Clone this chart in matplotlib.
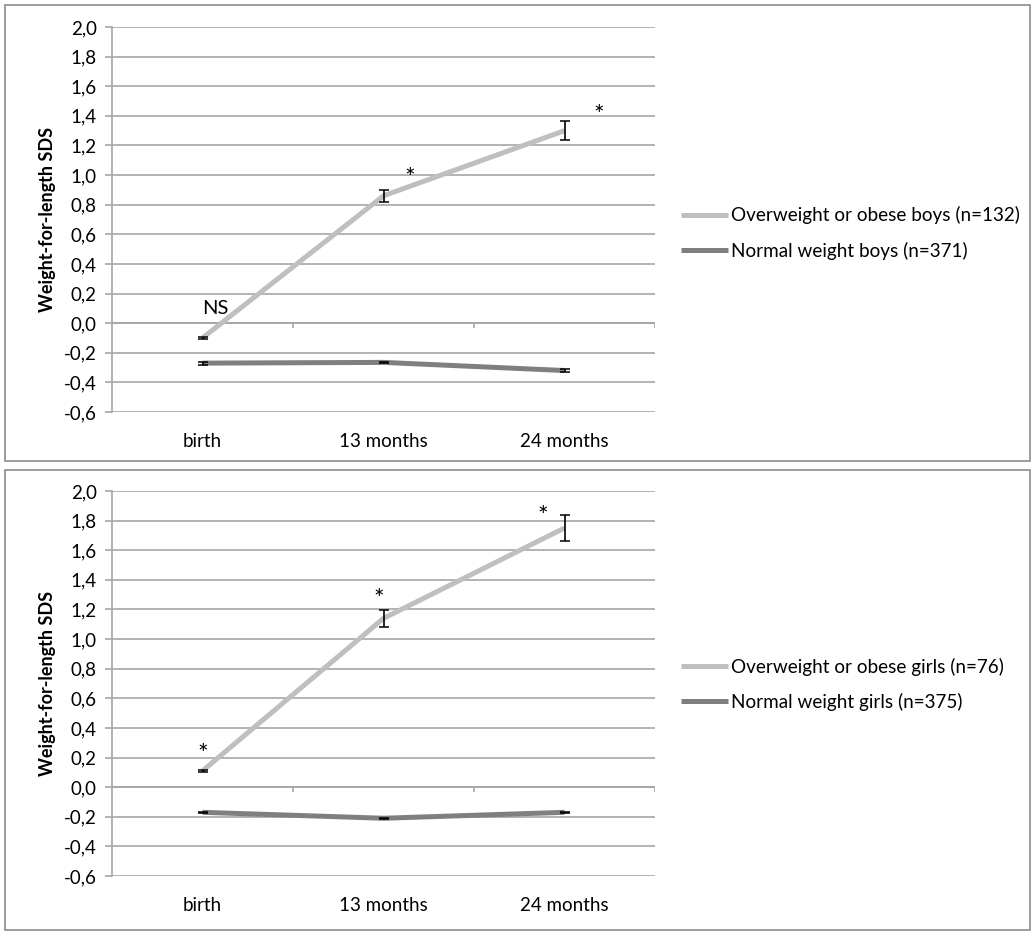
import matplotlib
matplotlib.use('Agg')
import matplotlib.pyplot as plt
from matplotlib.patches import Rectangle
from matplotlib.ticker import FuncFormatter
import numpy as np

categories = ['birth', '13 months', '24 months']

boys_ow = [-0.10, 0.86, 1.30]
boys_ow_err = [0.005, 0.04, 0.065]
boys_nw = [-0.27, -0.265, -0.32]
boys_nw_err = [0.01, 0.005, 0.01]
boys_marks = ['NS', '*', '*']
boys_labels = ['Overweight or obese boys (n=132)', 'Normal weight boys (n=371)']

girls_ow = [0.11, 1.14, 1.75]
girls_ow_err = [0.005, 0.057, 0.088]
girls_nw = [-0.17, -0.21, -0.17]
girls_nw_err = [0.005, 0.005, 0.005]
girls_marks = ['*', '*', '*']
girls_labels = ['Overweight or obese girls (n=76)', 'Normal weight girls (n=375)']

plt.rcParams['font.family'] = ['Lato', 'DejaVu Sans']

W, H = 1035, 936
fig = plt.figure(figsize=(W / 100, H / 100), dpi=100)

grid_c = '#a6a6a6'
light = '#bfbfbf'
dark = '#7f7f7f'
fs = 13

panels = [
    dict(ow=boys_ow, ow_err=boys_ow_err, nw=boys_nw, nw_err=boys_nw_err,
         marks=boys_marks, labels=boys_labels,
         mark_dx=[0.07, 0.145, 0.19], mark_dy=[0.20, 0.12, 0.10],
         box=(5, 5, 1030, 461), ax_top=27, leg_y=233),
    dict(ow=girls_ow, ow_err=girls_ow_err, nw=girls_nw, nw_err=girls_nw_err,
         marks=girls_marks, labels=girls_labels,
         mark_dx=[0.0, -0.027, -0.12], mark_dy=[0.11, 0.13, 0.08],
         box=(5, 470, 1030, 930), ax_top=491, leg_y=684),
]

x = np.arange(len(categories))
for p in panels:
    x0, y0, x1, y1 = p['box']
    fig.patches.append(Rectangle((x0 / W, 1 - y1 / H), (x1 - x0) / W, (y1 - y0) / H,
                                 transform=fig.transFigure, fill=False,
                                 edgecolor='#8c8c8c', linewidth=1.2))
    top = p['ax_top']
    ax = fig.add_axes([112 / W, 1 - (top + 385) / H, 543 / W, 385 / H])
    ax.set_xlim(-0.5, 2.5)
    ax.set_ylim(-0.6, 2.0)
    ax.set_yticks(np.arange(-0.6, 2.01, 0.2))
    ax.yaxis.set_major_formatter(FuncFormatter(lambda v, pos: f'{v:.1f}'.replace('.', ',').replace('-0,0', '0,0')))
    ax.grid(axis='y', color=grid_c, linewidth=1.2)
    ax.set_axisbelow(True)
    for s in ['top', 'right', 'bottom']:
        ax.spines[s].set_visible(False)
    ax.spines['left'].set_color(grid_c)
    ax.spines['left'].set_linewidth(1.2)
    ax.tick_params(axis='y', colors=grid_c, length=5, width=1.2, labelcolor='black',
                   labelsize=fs + 0.5, pad=6)
    ax.set_xticks(x)
    ax.set_xticklabels(categories)
    ax.tick_params(axis='x', length=0, pad=15, labelsize=fs + 0.5)
    # category axis crosses at zero
    ax.axhline(0, color=grid_c, linewidth=1.2, zorder=1)
    ax.vlines(x + 0.5, -0.035, 0, color=grid_c, linewidth=1.2, zorder=1)

    l1, = ax.plot(x, p['ow'], color=light, linewidth=3.6, solid_capstyle='butt', zorder=3)
    ax.errorbar(x, p['ow'], yerr=p['ow_err'], fmt='none', ecolor='black',
                elinewidth=1.2, capsize=3.5, capthick=1.1, zorder=4)
    l2, = ax.plot(x, p['nw'], color=dark, linewidth=3.6, solid_capstyle='butt', zorder=3)
    ax.errorbar(x, p['nw'], yerr=p['nw_err'], fmt='none', ecolor='black',
                elinewidth=1.2, capsize=3.5, capthick=1.1, zorder=4)

    for i, m in enumerate(p['marks']):
        ax.text(x[i] + p['mark_dx'][i], p['ow'][i] + p['mark_dy'][i], m,
                ha='center', va='center', fontsize=18 if m == '*' else fs + 1.5)

    ax.set_ylabel('Weight-for-length SDS', fontsize=fs, fontweight='bold', labelpad=6)

    fig.legend([l1, l2], p['labels'], loc='center left',
               bbox_to_anchor=(681 / W, 1 - p['leg_y'] / H), frameon=False,
               fontsize=fs + 0.6, handlelength=2.5, handletextpad=0.15, labelspacing=0.9,
               borderaxespad=0, borderpad=0)

fig.savefig('out.png', dpi=100)
